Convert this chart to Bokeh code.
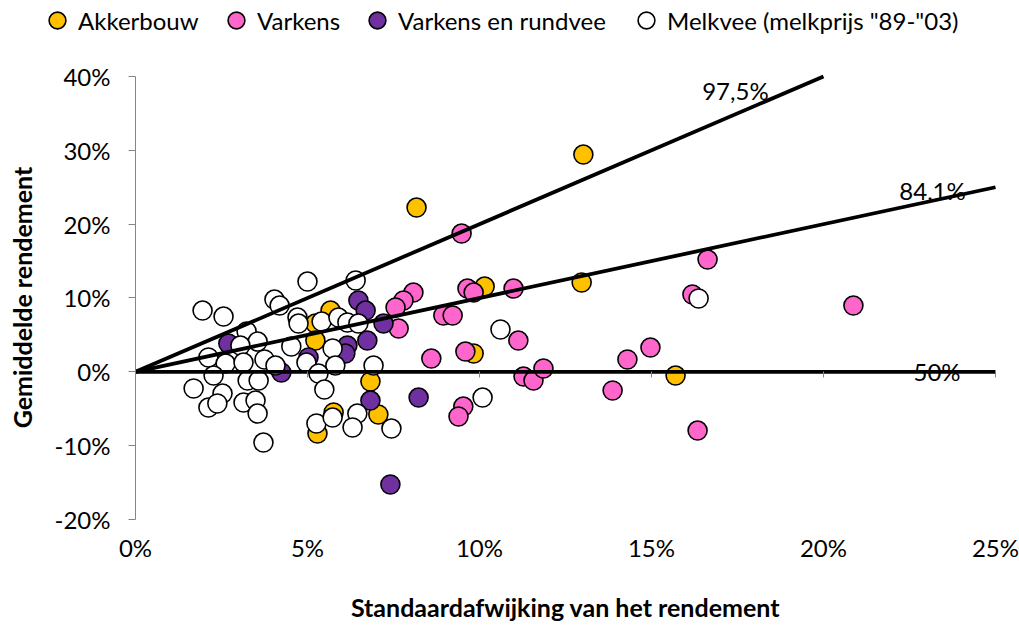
import math
from bokeh.plotting import figure
from bokeh.models import (Range1d, FixedTicker, CustomJSTickFormatter, Legend,
                          LegendItem, LinearAxis, Label)
from bokeh.core.properties import value
from bokeh.embed import file_html
from bokeh.resources import INLINE

# ---------------- data (percent) ----------------
akker_sd = [13.02, 8.17, 10.15, 12.97, 9.83, 15.70, 6.83, 7.06, 5.76, 5.29, 5.67, 5.23, 5.23]
akker_ret = [29.43, 22.25, 11.55, 12.10, 2.48, -0.50, -1.31, -5.78, -5.51, -8.36, 8.30, 6.54, 4.24]

varkens_sd = [9.48, 16.63, 16.19, 20.87, 10.99, 9.65, 9.83, 8.95, 9.22, 8.08, 7.79, 7.56, 7.65,
              8.60, 9.59, 11.13, 11.28, 11.57, 11.86, 9.53, 9.39, 14.30, 14.97, 13.87, 16.34]
varkens_ret = [18.73, 15.21, 10.47, 8.98, 11.28, 11.28, 10.74, 7.63, 7.63, 10.74, 9.66, 8.71, 5.86,
               1.80, 2.75, 4.24, -0.64, -1.18, 0.45, -4.70, -6.05, 1.67, 3.29, -2.53, -7.95]

vr_sd = [7.41, 8.23, 6.83, 6.48, 6.69, 6.74, 6.16, 6.10, 7.21, 5.03, 2.70, 4.24]
vr_ret = [-15.26, -3.48, -3.89, 9.66, 8.30, 4.24, 3.56, 2.48, 6.54, 1.94, 3.83, -0.09]

melk_sd = [1.95, 2.56, 4.04, 4.19, 5.00, 6.40, 4.71, 4.74, 5.41, 5.90, 6.16, 6.48, 3.23, 3.55,
           3.05, 4.53, 5.73, 2.12, 2.62, 3.14, 3.75, 4.07, 4.97, 5.81, 5.32, 6.92, 2.27, 3.26,
           3.58, 1.69, 2.53, 5.49, 2.12, 2.38, 3.14, 3.49, 3.55, 3.72, 5.26, 5.73, 6.45, 6.31,
           7.44, 10.61, 10.09, 16.37]
melk_ret = [8.30, 7.49, 9.79, 8.98, 12.23, 12.37, 7.35, 6.54, 6.81, 7.35, 6.68, 6.54, 5.46, 4.10,
            3.56, 3.43, 3.16, 1.94, 1.12, 1.26, 1.67, 0.85, 1.26, 0.85, -0.23, 0.85, -0.50, -1.18,
            -1.18, -2.26, -2.94, -2.40, -4.84, -4.29, -4.16, -3.89, -5.65, -9.58, -7.00, -6.19,
            -5.65, -7.54, -7.68, 5.73, -3.48, 9.93]

series_names = ["Akkerbouw", "Varkens", "Varkens en rundvee", 'Melkvee (melkprijs "89-"03)']
series_colors = ["#FFC000", "#FF66CC", "#7030A0", "#FFFFFF"]

# probability lines: mean return = z * sd
line_labels = ["50%", "84,1%", "97,5%"]
line_z = [0.0, 1.0, 2.0]
label_x = [23.3, 23.17, 17.44]
label_y = [0.0, 24.56, 38.1]

x_ticks = [0, 5, 10, 15, 20, 25]
y_ticks = [-20, -10, 0, 10, 20, 30, 40]
X_MAX, Y_MIN, Y_MAX = 25, -20, 40

FONT = "Lato"
W, H = 1019, 628
# the drawing area covers the whole canvas; axes sit at fixed data positions
VIEW_X = (-3.924, 25.698)
VIEW_Y = (-34.76, 50.29)

p = figure(width=W, height=H, output_backend="svg", toolbar_location=None, title=None,
           x_range=Range1d(*VIEW_X), y_range=Range1d(*VIEW_Y),
           x_axis_location=None, y_axis_location=None, min_border=0)
p.outline_line_color = None
p.grid.visible = False
p.background_fill_color = "white"

fmt = CustomJSTickFormatter(code="return tick.toFixed(0) + '%';")
blank = CustomJSTickFormatter(code="return '';")

# y axis on x = 0
ya = LinearAxis(fixed_location=0, ticker=FixedTicker(ticks=y_ticks), formatter=fmt,
                bounds=(Y_MIN, Y_MAX))
ya.axis_line_color = "#868686"
ya.major_tick_line_color = "#868686"
ya.major_tick_out = 7
ya.major_tick_in = 0
ya.minor_tick_line_color = None
ya.major_label_standoff = 18
ya.major_label_text_font = FONT
ya.major_label_text_font_size = "24px"
ya.major_label_text_color = "black"
p.add_layout(ya, "left")

# x ticks on y = 0
xa0 = LinearAxis(fixed_location=0, ticker=FixedTicker(ticks=x_ticks), formatter=blank,
                 bounds=(0, X_MAX))
xa0.axis_line_color = None
xa0.major_tick_line_color = "#868686"
xa0.major_tick_out = 6
xa0.major_tick_in = 0
xa0.minor_tick_line_color = None
xa0.major_label_standoff = 0
p.add_layout(xa0, "below")

# x tick labels at the bottom (y = -20)
xa = LinearAxis(fixed_location=Y_MIN, ticker=FixedTicker(ticks=x_ticks), formatter=fmt,
                bounds=(0, X_MAX))
xa.axis_line_color = None
xa.major_tick_line_color = None
xa.minor_tick_line_color = None
xa.major_tick_out = 0
xa.major_tick_in = 0
xa.major_label_standoff = 13
xa.major_label_text_font = FONT
xa.major_label_text_font_size = "24px"
xa.major_label_text_color = "black"
p.add_layout(xa, "below")

# axis titles
p.add_layout(Label(x=565, y=H - 606, x_units="screen", y_units="screen",
                   text="Standaardafwijking van het rendement", text_font=FONT,
                   text_font_size="25px", text_font_style="bold", text_color="black",
                   text_align="center", text_baseline="middle"))
p.add_layout(Label(x=21, y=H - 297, x_units="screen", y_units="screen",
                   text="Gemiddelde rendement", text_font=FONT, angle=math.pi / 2,
                   text_font_size="25px", text_font_style="bold", text_color="black",
                   text_align="center", text_baseline="middle"))

# scatter series
renderers = []
for xs, ys, c in [(akker_sd, akker_ret, series_colors[0]),
                  (varkens_sd, varkens_ret, series_colors[1]),
                  (vr_sd, vr_ret, series_colors[2]),
                  (melk_sd, melk_ret, series_colors[3])]:
    r = p.scatter(x=xs, y=ys, size=19, marker="circle", fill_color=c,
                  line_color="black", line_width=1.6)
    renderers.append(r)

# probability lines
for z in line_z:
    x_end = X_MAX if z == 0 else min(X_MAX, Y_MAX / z)
    p.line(x=[0, x_end], y=[0, z * x_end], line_color="black", line_width=3.8)

p.text(x=label_x, y=label_y, text=line_labels, text_font=value(FONT),
       text_font_size="24px", text_align="center", text_baseline="middle",
       text_color="black")

# legend: one per item to control positions
leg_x = [36, 215, 356, 625]
for name, r, lx in zip(series_names, renderers, leg_x):
    lg = Legend(items=[LegendItem(label=name, renderers=[r])],
                location=(lx, H - 41), orientation="horizontal",
                glyph_width=42, glyph_height=42, label_standoff=-6,
                padding=0, margin=0, border_line_alpha=0, background_fill_alpha=0,
                label_text_font=FONT, label_text_font_size="24px",
                label_text_color="black")
    p.add_layout(lg, "center")

open("out.html", "w").write(file_html(p, INLINE))
